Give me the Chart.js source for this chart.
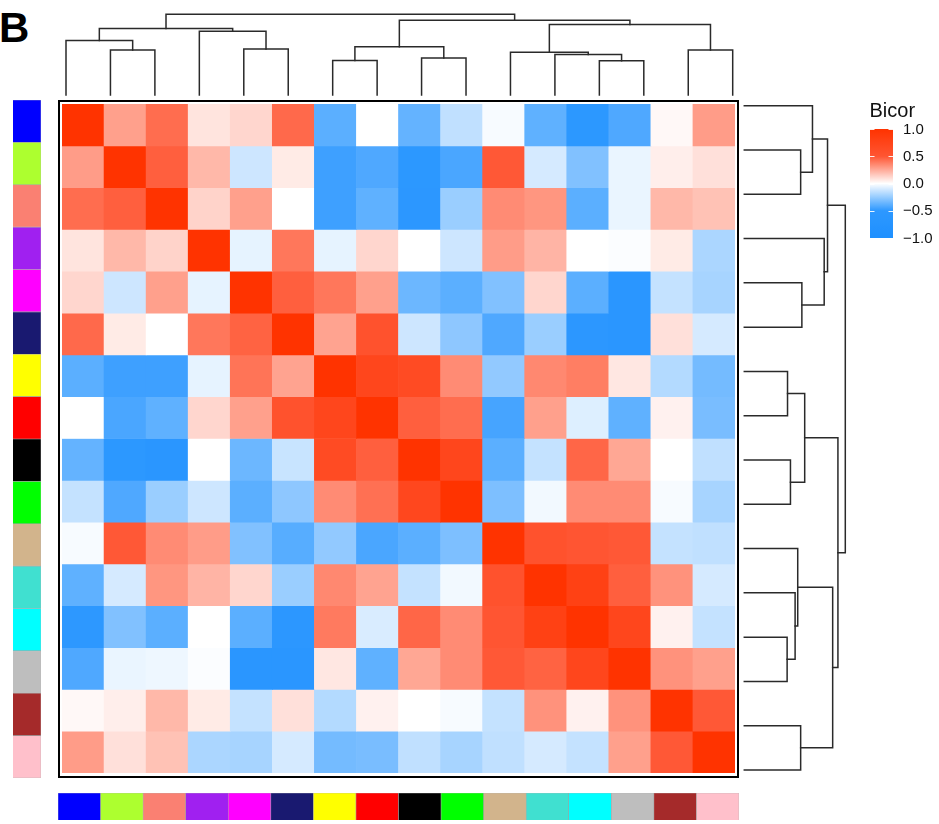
<!DOCTYPE html>
<html>
<head>
<meta charset="utf-8">
<title>Module eigengene bicor heatmap</title>
<script src="https://cdn.jsdelivr.net/npm/chart.js@4.4.1/dist/chart.umd.min.js"></script>
<style>
  html, body { margin: 0; padding: 0; background: #fff; }
  body { position: relative; width: 939px; height: 824px; overflow: hidden; }
  canvas { position: absolute; display: block; }
  #panelTag { position: absolute; left: -1px; top: 7px; font: bold 42px "Liberation Sans", Arial, Helvetica, sans-serif; line-height: 1; color: #000; }
  #frame { position: absolute; left: 58px; top: 100px; width: 681px; height: 678px; box-sizing: border-box; border: 2.5px solid #000; }
</style>
</head>
<body>
<div id="panelTag">B</div>
<div id="frame"></div>
<script>
// Modules in dendrogram order (same order for rows and columns)
const modules = ['blue', 'greenyellow', 'salmon', 'purple', 'magenta', 'midnightblue', 'yellow', 'red',
                 'black', 'green', 'tan', 'turquoise', 'cyan', 'grey', 'brown', 'pink'];
const moduleColors = ['#0000FF', '#ADFF2F', '#FA8072', '#A020F0', '#FF00FF', '#191970', '#FFFF00', '#FF0000',
                      '#000000', '#00FF00', '#D2B48C', '#40E0D0', '#00FFFF', '#BEBEBE', '#A52A2A', '#FFC0CB'];

// Biweight midcorrelation between module eigengenes, one row per module
const rowBlue         = [ 1.00,  0.28,  0.43,  0.08,  0.12,  0.44, -0.39,  0.00, -0.37, -0.15, -0.02, -0.38, -0.53, -0.42,  0.02,  0.29];
const rowGreenyellow  = [ 0.29,  1.00,  0.47,  0.21, -0.12,  0.06, -0.46, -0.42, -0.52, -0.43,  0.49, -0.10, -0.30, -0.05,  0.05,  0.09];
const rowSalmon       = [ 0.43,  0.47,  1.00,  0.13,  0.28,  0.00, -0.46, -0.38, -0.55, -0.24,  0.34,  0.31, -0.39, -0.05,  0.21,  0.18];
const rowPurple       = [ 0.08,  0.21,  0.13,  1.00, -0.06,  0.40, -0.06,  0.12,  0.00, -0.12,  0.29,  0.22,  0.00, -0.01,  0.06, -0.20];
const rowMagenta      = [ 0.12, -0.12,  0.28, -0.06,  1.00,  0.47,  0.40,  0.28, -0.35, -0.39, -0.30,  0.12, -0.39, -0.60, -0.14, -0.21];
const rowMidnightblue = [ 0.44,  0.06,  0.00,  0.40,  0.46,  1.00,  0.27,  0.55, -0.12, -0.27, -0.42, -0.24, -0.55, -0.60,  0.09, -0.10];
const rowYellow       = [-0.39, -0.46, -0.46, -0.06,  0.41,  0.27,  1.00,  0.72,  0.65,  0.34, -0.26,  0.35,  0.38,  0.07, -0.18, -0.33];
const rowRed          = [ 0.00, -0.43, -0.38,  0.12,  0.28,  0.55,  0.72,  1.00,  0.47,  0.43, -0.44,  0.28, -0.08, -0.38,  0.04, -0.32];
const rowBlack        = [-0.37, -0.52, -0.60,  0.00, -0.35, -0.13,  0.65,  0.47,  1.00,  0.72, -0.39, -0.14,  0.45,  0.26,  0.00, -0.15];
const rowGreen        = [-0.14, -0.42, -0.24, -0.12, -0.39, -0.27,  0.34,  0.42,  0.70,  1.00, -0.31, -0.03,  0.34,  0.34, -0.02, -0.21];
const rowTan          = [-0.02,  0.49,  0.34,  0.29, -0.30, -0.40, -0.26, -0.43, -0.39, -0.31,  1.00,  0.55,  0.50,  0.49, -0.14, -0.15];
const rowTurquoise    = [-0.38, -0.10,  0.31,  0.22,  0.12, -0.24,  0.35,  0.27, -0.14, -0.03,  0.55,  1.00,  0.80,  0.47,  0.32, -0.10];
const rowCyan         = [-0.50, -0.30, -0.39,  0.00, -0.39, -0.55,  0.39, -0.09,  0.45,  0.34,  0.50,  0.80,  1.00,  0.72,  0.04, -0.14];
const rowGrey         = [-0.42, -0.05, -0.04, -0.01, -0.60, -0.60,  0.07, -0.38,  0.26,  0.34,  0.49,  0.46,  0.72,  1.00,  0.32,  0.28];
const rowBrown        = [ 0.02,  0.05,  0.21,  0.06, -0.14,  0.09, -0.18,  0.04,  0.00, -0.02, -0.14,  0.32,  0.04,  0.32,  1.00,  0.49];
const rowPink         = [ 0.29,  0.09,  0.18, -0.20, -0.21, -0.10, -0.33, -0.32, -0.15, -0.21, -0.15, -0.10, -0.14,  0.28,  0.49,  1.00];
const bicorRows = [rowBlue, rowGreenyellow, rowSalmon, rowPurple, rowMagenta, rowMidnightblue, rowYellow, rowRed,
                   rowBlack, rowGreen, rowTan, rowTurquoise, rowCyan, rowGrey, rowBrown, rowPink];

// hclust-style merge table: negative entries are leaves (1-based, display order), positive entries earlier merges
const mergeLeft   = [-13,  -7,  -9, -12, -11,  -2, -15,  -5,   2,  -1,  -4,  10,   5,   9,  12];
const mergeRight  = [-14,  -8, -10,   1,   4,  -3, -16,  -6,   3,   6,   8,  11,   7,  13,  14];
const mergeHeight = [0.424, 0.428, 0.457, 0.503, 0.529, 0.558, 0.558, 0.570, 0.598, 0.675, 0.791, 0.824, 0.875, 0.927, 1.000];

// Colour key
const legendTicks = [-1, -0.5, 0, 0.5, 1];
const legendTickLabels = ['\u22121.0', '\u22120.5', '0.0', '0.5', '1.0'];
const paletteStops = [-1, -0.5, 0, 0.5, 1];
const paletteRGB = [[30, 144, 255], [45, 152, 255], [255, 255, 255], [255, 85, 50], [255, 51, 0]];

const FONT = '"Liberation Sans", Arial, Helvetica, sans-serif';
const TREE_COLOR = '#2a2a2a';
const TREE_WIDTH = 1.5;

function bicorColor(v) {
  v = Math.max(-1, Math.min(1, v));
  for (let i = 1; i < paletteStops.length; i++) {
    if (v <= paletteStops[i]) {
      const t = (v - paletteStops[i - 1]) / (paletteStops[i] - paletteStops[i - 1]);
      const a = paletteRGB[i - 1], b = paletteRGB[i];
      const c = a.map((ch, k) => Math.round(ch + (b[k] - ch) * t));
      return `rgb(${c[0]},${c[1]},${c[2]})`;
    }
  }
  return `rgb(${paletteRGB[paletteRGB.length - 1].join(',')})`;
}

function makeCanvas(left, top, w, h) {
  const c = document.createElement('canvas');
  c.width = w; c.height = h;
  c.style.left = left + 'px'; c.style.top = top + 'px';
  c.style.width = w + 'px'; c.style.height = h + 'px';
  document.body.appendChild(c);
  return c;
}

// Axis range so that value v1 lands on pixel p1 and v2 on p2, for a canvas axis starting at `start` of `size` px.
// `upward` means larger values are drawn towards smaller pixel coordinates.
function axisRange(v1, p1, v2, p2, start, size, upward) {
  const k = Math.abs(p2 - p1) / Math.abs(v2 - v1);
  const lo = upward ? v1 - (start + size - p1) / k : v1 - (p1 - start) / k;
  return { min: lo, max: lo + size / k };
}

// Walk the merge table and return the bracket (4 points) drawn for each merge
function dendrogramSegments() {
  const pos = [], hgt = [], segs = [];
  const child = k => (k < 0 ? { p: -k, h: 0 } : { p: pos[k - 1], h: hgt[k - 1] });
  for (let m = 0; m < mergeHeight.length; m++) {
    const a = child(mergeLeft[m]), b = child(mergeRight[m]), h = mergeHeight[m];
    pos.push((a.p + b.p) / 2);
    hgt.push(h);
    segs.push([[a.p, a.h], [a.p, h], [b.p, h], [b.p, b.h]]);
  }
  return segs;
}

const baseOptions = {
  responsive: false,
  animation: false,
  devicePixelRatio: 1,
  events: [],
  layout: { padding: 0 },
  plugins: { legend: { display: false }, tooltip: { enabled: false }, title: { display: false } }
};
const segments = dendrogramSegments();
const treeDataset = pts => ({
  data: pts, showLine: true, pointRadius: 0, borderColor: TREE_COLOR, borderWidth: TREE_WIDTH,
  borderCapStyle: 'square', borderJoinStyle: 'miter', fill: false, tension: 0, clip: false
});

// ---- column dendrogram (top) ----
{
  const L = 40, T = 0, W = 720, H = 100;
  const xr = axisRange(1, 66, 16, 732.7, L, W, false);
  const yr = axisRange(0, 95, 1, 14.3, T, H, true);
  new Chart(makeCanvas(L, T, W, H), {
    type: 'scatter',
    data: { datasets: segments.map(s => treeDataset(s.map(([p, h]) => ({ x: p, y: h })))) },
    options: { ...baseOptions, scales: {
      x: { type: 'linear', display: false, min: xr.min, max: xr.max },
      y: { type: 'linear', display: false, min: yr.min, max: yr.max }
    } }
  });
}

// ---- row dendrogram (right) ----
{
  const L = 740, T = 84, W = 115, H = 709;
  const xr = axisRange(0, 744.3, 1, 845.3, L, W, false);
  const yr = axisRange(1, 105.7, 16, 770, T, H, false);
  new Chart(makeCanvas(L, T, W, H), {
    type: 'scatter',
    data: { datasets: segments.map(s => treeDataset(s.map(([p, h]) => ({ x: h, y: p })))) },
    options: { ...baseOptions, scales: {
      x: { type: 'linear', display: false, min: xr.min, max: xr.max },
      y: { type: 'linear', display: false, min: yr.min, max: yr.max, reverse: true }
    } }
  });
}

// ---- heatmap cells: one stacked bar series per row ----
new Chart(makeCanvas(62, 104, 673, 669), {
  type: 'bar',
  data: {
    labels: modules,
    datasets: bicorRows.map((row, r) => ({
      label: modules[r],
      data: row.map(() => 1),
      backgroundColor: row.map(bicorColor),
      borderWidth: 0,
      barPercentage: 1,
      categoryPercentage: 1
    }))
  },
  options: { ...baseOptions, scales: {
    x: { stacked: true, display: false },
    y: { stacked: true, display: false, min: 0, max: modules.length, reverse: true }
  } }
});

// ---- module colour strips ----
const stripOptions = (indexAxis) => ({
  ...baseOptions,
  indexAxis,
  scales: indexAxis === 'y'
    ? { y: { display: false }, x: { display: false, min: 0, max: 1 } }
    : { x: { display: false }, y: { display: false, min: 0, max: 1 } }
});
const stripDataset = () => ({
  data: modules.map(() => 1), backgroundColor: moduleColors,
  borderColor: 'rgba(120,120,120,0.55)', borderWidth: 0.6, barPercentage: 1, categoryPercentage: 1
});
new Chart(makeCanvas(13, 100, 28, 678), { type: 'bar', data: { labels: modules, datasets: [stripDataset()] }, options: stripOptions('y') });
new Chart(makeCanvas(58, 793, 681, 27), { type: 'bar', data: { labels: modules, datasets: [stripDataset()] }, options: stripOptions('x') });

// ---- colour key ----
const keyPlugin = {
  id: 'keyDecor',
  afterDatasetsDraw(chart) {
    const { ctx, chartArea: a, scales: { y } } = chart;
    ctx.save();
    ctx.strokeStyle = 'rgba(255,255,255,0.9)';
    ctx.lineWidth = 1;
    legendTicks.forEach(v => {
      const py = Math.round(y.getPixelForValue(v)) + 0.5;
      ctx.beginPath();
      ctx.moveTo(a.left, py); ctx.lineTo(a.left + 4.5, py);
      ctx.moveTo(a.right - 4.5, py); ctx.lineTo(a.right, py);
      ctx.stroke();
    });
    ctx.restore();
  },
  afterDraw(chart) {
    const { ctx, chartArea: a, scales: { y } } = chart;
    ctx.save();
    ctx.fillStyle = '#111';
    ctx.textAlign = 'left';
    ctx.textBaseline = 'alphabetic';
    ctx.font = '20px ' + FONT;
    ctx.fillText('Bicor', a.left - 0.5, 21.7);
    ctx.font = '15px ' + FONT;
    ctx.textBaseline = 'middle';
    legendTicks.forEach((v, i) => ctx.fillText(legendTickLabels[i], a.right + 10, y.getPixelForValue(v) + 0.5));
    ctx.restore();
  }
};
new Chart(makeCanvas(866, 95, 73, 150), {
  type: 'bar',
  data: {
    labels: ['Bicor'],
    datasets: [{
      data: [[legendTicks[0], legendTicks[legendTicks.length - 1]]],
      barPercentage: 1, categoryPercentage: 1, borderWidth: 0,
      backgroundColor: (c) => {
        const ch = c.chart, area = ch.chartArea;
        if (!area) return 'transparent';
        const ys = ch.scales.y;
        const top = ys.getPixelForValue(1), bottom = ys.getPixelForValue(-1);
        const g = ch.ctx.createLinearGradient(0, bottom, 0, top);
        for (let i = 0; i <= 40; i++) {
          const v = -1 + i / 20;
          g.addColorStop(i / 40, bicorColor(v));
        }
        return g;
      }
    }]
  },
  options: { ...baseOptions,
    layout: { padding: { left: 4, top: 34, right: 46, bottom: 7 } },
    scales: { x: { display: false }, y: { display: false, min: -1, max: 1 } }
  },
  plugins: [keyPlugin]
});
</script>
</body>
</html>
